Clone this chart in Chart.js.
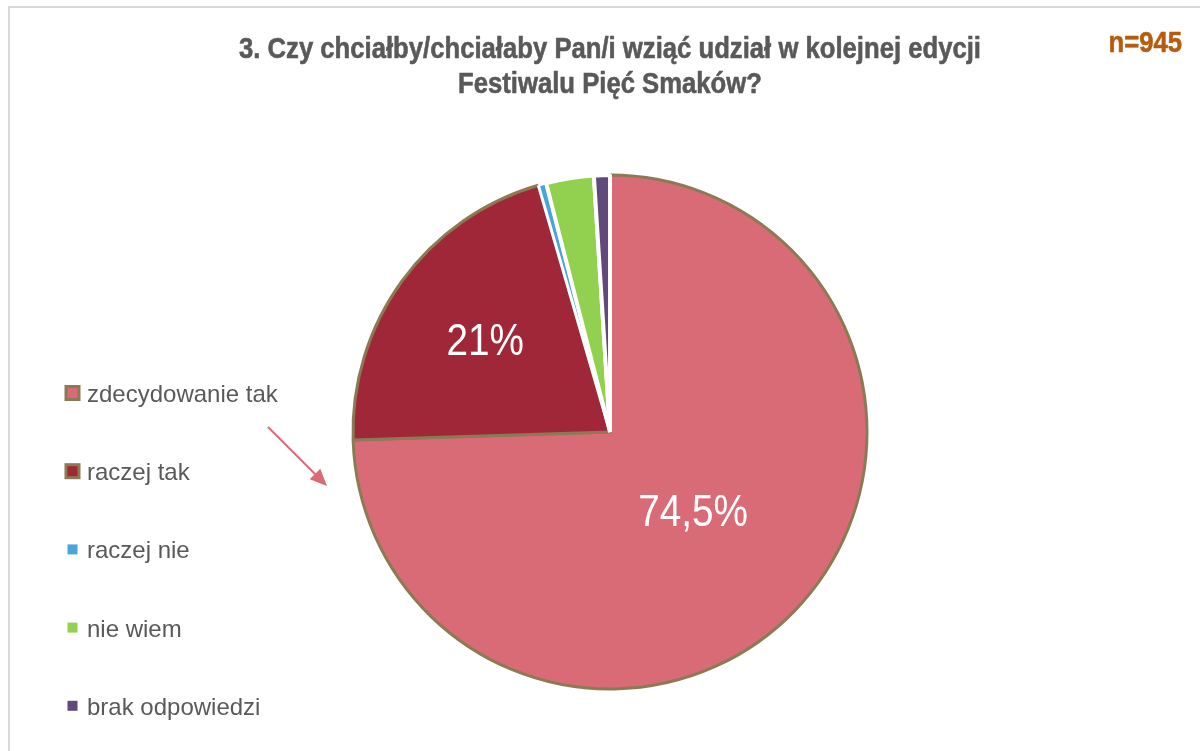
<!DOCTYPE html>
<html>
<head>
<meta charset="utf-8">
<script src="https://cdn.jsdelivr.net/npm/chart.js@4"></script>
<style>
  html, body { margin: 0; padding: 0; background: #fff; }
  canvas { display: block; }
</style>
</head>
<body>
<canvas id="pieChart" width="1200" height="751"></canvas>
<script>
// data
const answers = ['zdecydowanie tak', 'raczej tak', 'raczej nie', 'nie wiem', 'brak odpowiedzi'];
const shares = [74.5, 21, 0.5, 3, 1];
const shareLabels = ['74,5%', '21%', '', '', ''];
const titleLines = ['3. Czy chciałby/chciałaby Pan/i wziąć udział w kolejnej edycji', 'Festiwalu Pięć Smaków?'];
const sampleSize = 'n=945';

const fillColors = ['#d96b77', '#a02737', '#4aa3db', '#92d050', '#604a7b'];
const edgeColors = ['#8b7a55', '#8b7a55', '#ffffff', '#ffffff', '#ffffff'];
const edgeWidths = [3, 3, 3, 4, 4];

// narrow text: no condensed font installed, so squeeze horizontally
function narrowText(ctx, text, x, y, align, sx, heavy) {
  ctx.save();
  ctx.translate(x, y);
  ctx.scale(sx, 1);
  ctx.textAlign = align;
  if (heavy) {
    ctx.lineWidth = heavy;
    ctx.strokeStyle = ctx.fillStyle;
    ctx.lineJoin = 'round';
    ctx.strokeText(text, 0, 0);
  }
  ctx.fillText(text, 0, 0);
  ctx.restore();
}

// frame, title, legend, arrow, value labels
const decorPlugin = {
  id: 'decor',
  beforeDraw(chart) {
    const ctx = chart.ctx;
    ctx.save();
    ctx.fillStyle = '#ffffff';
    ctx.fillRect(0, 0, chart.width, chart.height);
    ctx.strokeStyle = '#d9d9d9';
    ctx.lineWidth = 2;
    ctx.beginPath();
    ctx.moveTo(9, chart.height);
    ctx.lineTo(9, 7);
    ctx.lineTo(chart.width, 7);
    ctx.stroke();
    ctx.restore();
  },
  afterDraw(chart) {
    const ctx = chart.ctx;
    ctx.save();

    // title
    ctx.fillStyle = '#595959';
    ctx.textBaseline = 'alphabetic';
    ctx.font = 'bold 30px "Liberation Sans"';
    const sx = 742 / ctx.measureText(titleLines[0]).width;
    narrowText(ctx, titleLines[0], 610, 58, 'center', sx, 0.6);
    narrowText(ctx, titleLines[1], 610, 93, 'center', sx, 0.6);

    ctx.fillStyle = '#b65c0e';
    narrowText(ctx, sampleSize, 1182, 52, 'right', sx, 0.6);

    // legend
    ctx.textAlign = 'left';
    ctx.font = '24px "Liberation Sans"';
    answers.forEach((name, i) => {
      const cy = 393 + i * 78.2;
      ctx.fillStyle = fillColors[i];
      ctx.fillRect(66, cy - 6.5, 13, 13);
      ctx.strokeStyle = edgeColors[i];
      ctx.lineWidth = 3;
      ctx.strokeRect(66, cy - 6.5, 13, 13);
      ctx.fillStyle = '#595959';
      ctx.fillText(name, 87, cy + 9);
    });

    // arrow
    ctx.strokeStyle = '#d96b77';
    ctx.fillStyle = '#d96b77';
    ctx.lineWidth = 2;
    const x0 = 268, y0 = 427, x1 = 327, y1 = 486;
    const ang = Math.atan2(y1 - y0, x1 - x0);
    ctx.beginPath();
    ctx.moveTo(x0, y0);
    ctx.lineTo(x1 - 12 * Math.cos(ang), y1 - 12 * Math.sin(ang));
    ctx.stroke();
    ctx.beginPath();
    ctx.moveTo(x1, y1);
    ctx.lineTo(x1 - 17 * Math.cos(ang) + 7.5 * Math.sin(ang), y1 - 17 * Math.sin(ang) - 7.5 * Math.cos(ang));
    ctx.lineTo(x1 - 17 * Math.cos(ang) - 7.5 * Math.sin(ang), y1 - 17 * Math.sin(ang) + 7.5 * Math.cos(ang));
    ctx.closePath();
    ctx.fill();

    // value labels inside the big slices
    const meta = chart.getDatasetMeta(0);
    const radial = [0.45, 0.6, 0.5, 0.5, 0.5];
    ctx.fillStyle = '#ffffff';
    ctx.textBaseline = 'middle';
    ctx.font = '44px "Liberation Sans"';
    meta.data.forEach((arc, i) => {
      if (!shareLabels[i]) return;
      const p = arc.getProps(['x', 'y', 'startAngle', 'endAngle', 'outerRadius'], true);
      const mid = (p.startAngle + p.endAngle) / 2;
      const r = p.outerRadius * radial[i];
      narrowText(ctx, shareLabels[i], p.x + r * Math.cos(mid), p.y + r * Math.sin(mid) + 1, 'center', 0.88, 0);
    });
    ctx.restore();
  }
};

const ctxPie = document.getElementById('pieChart').getContext('2d');
const pieChart = new Chart(ctxPie, {
  type: 'pie',
  data: {
    labels: answers,
    datasets: [{
      data: shares,
      backgroundColor: fillColors,
      borderColor: edgeColors,
      borderWidth: edgeWidths
    }]
  },
  options: {
    responsive: false,
    animation: false,
    layout: { padding: { top: 173, bottom: 60, left: 330, right: 310 } },
    plugins: {
      legend: { display: false },
      tooltip: { enabled: false },
      title: { display: false }
    }
  },
  plugins: [decorPlugin]
});
</script>
</body>
</html>
